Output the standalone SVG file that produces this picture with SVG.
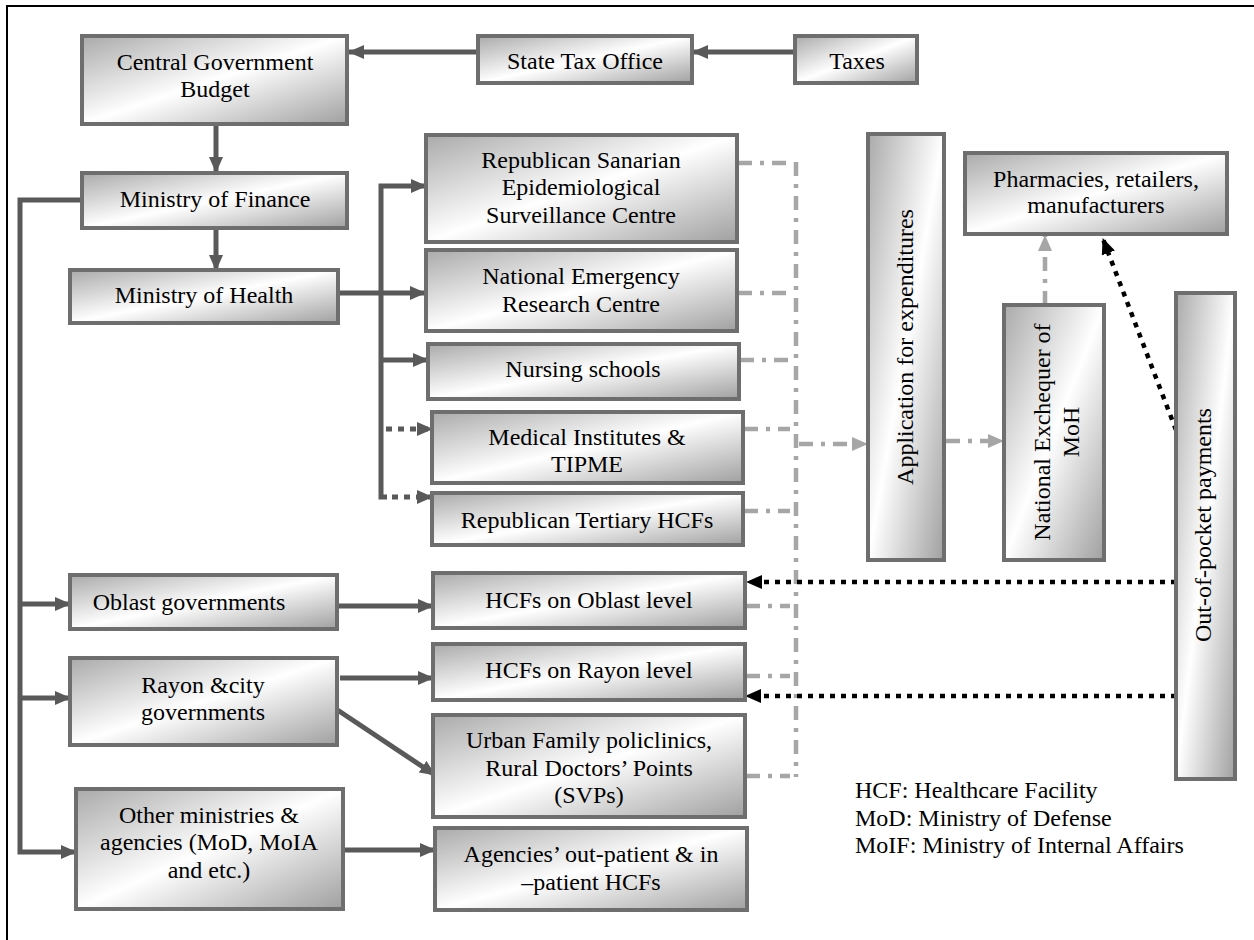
<svg xmlns="http://www.w3.org/2000/svg" width="1254" height="940" viewBox="0 0 1254 940">
<defs>
<linearGradient id="g" x1="0" y1="0" x2="1" y2="1">
<stop offset="0" stop-color="#aaaaaa"/>
<stop offset="0.5" stop-color="#ffffff"/>
<stop offset="1" stop-color="#a0a0a0"/>
</linearGradient>
<marker id="aD" markerUnits="userSpaceOnUse" markerWidth="16" markerHeight="14" refX="15" refY="7" orient="auto"><path d="M0,0 L16,7 L0,14 z" fill="#595959"/></marker>
<marker id="aL" markerUnits="userSpaceOnUse" markerWidth="16" markerHeight="14" refX="15" refY="7" orient="auto"><path d="M0,0 L16,7 L0,14 z" fill="#a6a6a6"/></marker>
<marker id="aB" markerUnits="userSpaceOnUse" markerWidth="16" markerHeight="14" refX="15" refY="7" orient="auto"><path d="M0,0 L16,7 L0,14 z" fill="#000"/></marker>
</defs>
<style>
.box{fill:url(#g);stroke:#6e6e6e;stroke-width:4}
text{font-family:"Liberation Serif","Times New Roman",serif;font-size:24px;fill:#000}
.c{text-anchor:middle}
.ln{fill:none;stroke:#595959;stroke-width:5}
.dt{fill:none;stroke:#595959;stroke-width:5;stroke-dasharray:6 6}
.dd{fill:none;stroke:#a6a6a6;stroke-width:4.5;stroke-dasharray:14 8 4 8}
.bk{fill:none;stroke:#000;stroke-width:4.5;stroke-dasharray:5 6}
</style>
<rect width="1254" height="940" fill="#fff"/>
<path d="M7,940 V6 H1254" fill="none" stroke="#000" stroke-width="2"/>

<g id="connectors">
<path class="ln" d="M478,52 H349" marker-end="url(#aD)"/>
<path class="ln" d="M795,52 H693" marker-end="url(#aD)"/>
<path class="ln" d="M216,124 V172" marker-end="url(#aD)"/>
<path class="ln" d="M216,228 V270" marker-end="url(#aD)"/>
<path class="ln" d="M82,200 H20 V852 H76" marker-end="url(#aD)"/>
<path class="ln" d="M20,604 H70" marker-end="url(#aD)"/>
<path class="ln" d="M20,698 H70" marker-end="url(#aD)"/>
<path class="ln" d="M338,293 H425" marker-end="url(#aD)"/>
<path class="ln" d="M387,497 H381 V186 H426" marker-end="url(#aD)"/>
<path class="ln" d="M381,360 H428" marker-end="url(#aD)"/>
<path class="dt" d="M386,429 H432" marker-end="url(#aD)"/>
<path class="dt" d="M392,497 H432" marker-end="url(#aD)"/>
<path class="ln" d="M337,606 H433" marker-end="url(#aD)"/>
<path class="ln" d="M340,678 H433" marker-end="url(#aD)"/>
<path class="ln" d="M333,707 L435,775" marker-end="url(#aD)"/>
<path class="ln" d="M343,850 H435" marker-end="url(#aD)"/>
<g>
<path class="dd" d="M796,162 V777"/>
<path class="dd" d="M738,163 H790"/>
<path class="dd" d="M738,293 H790"/>
<path class="dd" d="M740,360 H790"/>
<path class="dd" d="M744,429 H790"/>
<path class="dd" d="M744,511 H790"/>
<path class="dd" d="M746,606 H790"/>
<path class="dd" d="M746,676 H790"/>
<path class="dd" d="M746,776 H790"/>
<path class="dd" d="M799,444 H867" marker-end="url(#aL)"/>
<path class="dd" d="M946,441 H1003" marker-end="url(#aL)"/>
<path class="dd" d="M1045,305 V236" marker-end="url(#aL)"/>
</g>
<path class="bk" d="M1176,430 L1103,239" marker-end="url(#aB)"/>
<path class="bk" d="M1176,582 H747" marker-end="url(#aB)"/>
<path class="bk" d="M1176,696 H746" marker-end="url(#aB)"/>
</g>

<g id="central-budget"><rect class="box" x="82" y="36" width="265" height="88"/><text class="c" x="215" y="70">Central Government</text><text class="c" x="215" y="97">Budget</text></g>
<g id="state-tax"><rect class="box" x="478" y="36" width="214" height="47"/><text class="c" x="585" y="69">State Tax Office</text></g>
<g id="taxes"><rect class="box" x="795" y="36" width="122" height="47"/><text class="c" x="857" y="69">Taxes</text></g>
<g id="min-finance"><rect class="box" x="82" y="173" width="265" height="55"/><text class="c" x="215" y="207">Ministry of Finance</text></g>
<g id="min-health"><rect class="box" x="70" y="270" width="268" height="53"/><text class="c" x="204" y="303">Ministry of Health</text></g>
<g id="rsesc"><rect class="box" x="426" y="135" width="311" height="107"/><text class="c" x="581" y="168">Republican Sanarian</text><text class="c" x="581" y="195">Epidemiological</text><text class="c" x="581" y="223">Surveillance Centre</text></g>
<g id="nerc"><rect class="box" x="426" y="250" width="311" height="81"/><text class="c" x="581" y="284">National Emergency</text><text class="c" x="581" y="312">Research Centre</text></g>
<g id="nursing"><rect class="box" x="428" y="344" width="311" height="55"/><text class="c" x="583" y="377">Nursing schools</text></g>
<g id="medinst"><rect class="box" x="432" y="412" width="311" height="71"/><text class="c" x="587" y="445">Medical Institutes &amp;</text><text class="c" x="587" y="472">TIPME</text></g>
<g id="tertiary"><rect class="box" x="432" y="493" width="311" height="52"/><text class="c" x="587" y="528">Republican Tertiary HCFs</text></g>
<g id="application"><rect class="box" x="868" y="134" width="76" height="426"/><text class="c" transform="translate(913,347) rotate(-90)">Application for expenditures</text></g>
<g id="pharmacies"><rect class="box" x="965" y="153" width="262" height="81"/><text class="c" x="1096" y="187">Pharmacies, retailers,</text><text class="c" x="1096" y="213">manufacturers</text></g>
<g id="exchequer"><rect class="box" x="1004" y="305" width="100" height="255"/><text class="c" transform="translate(1050,432) rotate(-90)">National Exchequer of</text><text class="c" transform="translate(1079,432) rotate(-90)">MoH</text></g>
<g id="oop"><rect class="box" x="1176" y="293" width="59" height="486"/><text class="c" transform="translate(1211,525) rotate(-90)">Out-of-pocket payments</text></g>
<g id="oblast-gov"><rect class="box" x="70" y="575" width="267" height="54"/><text class="c" x="189" y="610">Oblast governments</text></g>
<g id="rayon-gov"><rect class="box" x="70" y="658" width="267" height="87"/><text class="c" x="203" y="693">Rayon &amp;city</text><text class="c" x="203" y="720">governments</text></g>
<g id="other-min"><rect class="box" x="76" y="789" width="267" height="120"/><text class="c" x="209" y="823">Other ministries &amp;</text><text class="c" x="209" y="850">agencies (MoD, MoIA</text><text class="c" x="209" y="878">and etc.)</text></g>
<g id="hcf-oblast"><rect class="box" x="433" y="573" width="312" height="55"/><text class="c" x="589" y="608">HCFs on Oblast level</text></g>
<g id="hcf-rayon"><rect class="box" x="433" y="644" width="312" height="56"/><text class="c" x="589" y="678">HCFs on Rayon level</text></g>
<g id="urban"><rect class="box" x="433" y="715" width="312" height="102"/><text class="c" x="589" y="748">Urban Family policlinics,</text><text class="c" x="589" y="776">Rural Doctors’ Points</text><text class="c" x="589" y="803">(SVPs)</text></g>
<g id="agencies"><rect class="box" x="435" y="828" width="312" height="82"/><text class="c" x="591" y="862">Agencies’ out-patient &amp; in</text><text class="c" x="591" y="890">–patient HCFs</text></g>
<g id="legend"><text x="855" y="798">HCF: Healthcare Facility</text><text x="855" y="826">MoD: Ministry of Defense</text><text x="855" y="853">MoIF: Ministry of Internal Affairs</text></g>
</svg>
